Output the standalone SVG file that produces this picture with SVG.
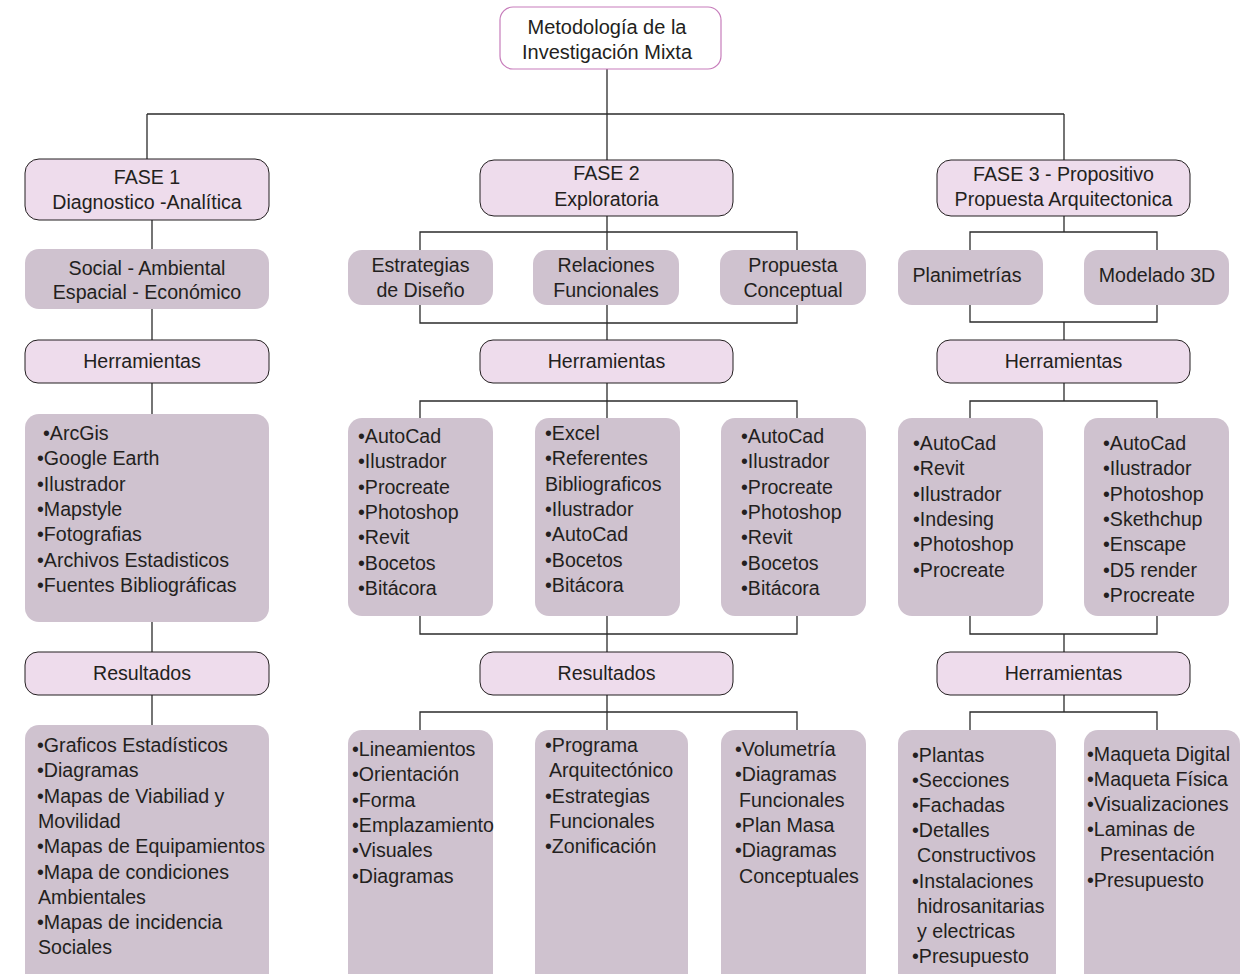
<svg xmlns="http://www.w3.org/2000/svg" width="1249" height="974" viewBox="0 0 1249 974">
<style>
.p{fill:#eedcec;stroke:#231f20;stroke-width:1}
.g{fill:#cfc2cf}
.w{fill:#ffffff;stroke:#c77dbb;stroke-width:1.2}
text{font-family:"Liberation Sans",Arial,sans-serif;font-size:19.6px;fill:#231f20}
.c{text-anchor:middle}
.ln{stroke:#2b2b2b;stroke-width:1.3;fill:none}
</style>
<rect x="0" y="0" width="1249" height="974" fill="#ffffff"/>
<g id="connectors">
<path class="ln" d="M607,69 V730 M147,114 H1064 M147,114 V159 M152,220 V725"/>
<path class="ln" d="M420,250 V232 H797 V250 M420,305 V323 H797 V305 M420,418 V401 H797 V418 M420,616 V634 H797 V616 M420,730 V712 H797 V730"/>
<path class="ln" d="M1064,114 V232 M1064,322 V401 M1064,634 V712 M970,250 V232 H1157 V250 M970,305 V322 H1157 V305 M970,418 V401 H1157 V418 M970,616 V634 H1157 V616 M970,730 V712 H1157 V730"/>
</g>
<g id="title">
<rect class="w" x="500" y="7" width="221" height="62" rx="13"/>
<text class="c" x="607" y="34" style="font-size:20px">Metodología de la</text>
<text class="c" x="607" y="59" style="font-size:20px">Investigación Mixta</text>
</g>
<g id="fase1">
<rect class="p" x="25" y="159" width="244" height="61" rx="14"/>
<text class="c" x="147" y="184">FASE 1</text>
<text class="c" x="147" y="209">Diagnostico -Analítica</text>
</g>
<g id="fase2">
<rect class="p" x="480" y="160" width="253" height="56" rx="14"/>
<text class="c" x="606.5" y="180">FASE 2</text>
<text class="c" x="606.5" y="206">Exploratoria</text>
</g>
<g id="fase3">
<rect class="p" x="937" y="160" width="253" height="56" rx="14"/>
<text class="c" x="1063.5" y="181">FASE 3 - Propositivo</text>
<text class="c" x="1063.5" y="206">Propuesta Arquitectonica</text>
</g>
<g id="social">
<rect class="g" x="25" y="249" width="244" height="60" rx="14"/>
<text class="c" x="147" y="274.5">Social - Ambiental</text>
<text class="c" x="147" y="299">Espacial - Económico</text>
</g>
<g id="estrategias">
<rect class="g" x="348" y="250" width="145" height="55" rx="14"/>
<text class="c" x="420.5" y="272">Estrategias</text>
<text class="c" x="420.5" y="297">de Diseño</text>
</g>
<g id="relaciones">
<rect class="g" x="533" y="250" width="146" height="55" rx="14"/>
<text class="c" x="606" y="272">Relaciones</text>
<text class="c" x="606" y="297">Funcionales</text>
</g>
<g id="propuesta">
<rect class="g" x="720" y="250" width="146" height="55" rx="14"/>
<text class="c" x="793" y="272">Propuesta</text>
<text class="c" x="793" y="297">Conceptual</text>
</g>
<g id="planimetrias">
<rect class="g" x="898" y="250" width="145" height="55" rx="14"/>
<text class="c" x="967" y="282">Planimetrías</text>
</g>
<g id="modelado">
<rect class="g" x="1084" y="250" width="145" height="55" rx="14"/>
<text class="c" x="1157" y="282">Modelado 3D</text>
</g>
<g id="herr1">
<rect class="p" x="25" y="340" width="244" height="43" rx="13"/>
<text class="c" x="142" y="368">Herramientas</text>
</g>
<g id="herr2">
<rect class="p" x="480" y="340" width="253" height="43" rx="13"/>
<text class="c" x="606.5" y="368">Herramientas</text>
</g>
<g id="herr3">
<rect class="p" x="937" y="340" width="253" height="43" rx="13"/>
<text class="c" x="1063.5" y="368">Herramientas</text>
</g>
<g id="tools1">
<rect class="g" x="25" y="414" width="244" height="208" rx="14"/>
<text x="43" y="440">•ArcGis</text>
<text x="37" y="465.3">•Google Earth</text>
<text x="37" y="490.6">•Ilustrador</text>
<text x="37" y="515.9">•Mapstyle</text>
<text x="37" y="541.2">•Fotografias</text>
<text x="37" y="566.5">•Archivos Estadisticos</text>
<text x="37" y="591.8">•Fuentes Bibliográficas</text>
</g>
<g id="tools2a">
<rect class="g" x="348" y="418" width="145" height="198" rx="14"/>
<text x="358" y="443">•AutoCad</text>
<text x="358" y="468.3">•Ilustrador</text>
<text x="358" y="493.6">•Procreate</text>
<text x="358" y="518.9">•Photoshop</text>
<text x="358" y="544.2">•Revit</text>
<text x="358" y="569.5">•Bocetos</text>
<text x="358" y="594.8">•Bitácora</text>
</g>
<g id="tools2b">
<rect class="g" x="535" y="418" width="145" height="198" rx="14"/>
<text x="545" y="440">•Excel</text>
<text x="545" y="465.3">•Referentes</text>
<text x="545" y="490.6">Bibliograficos</text>
<text x="545" y="515.9">•Ilustrador</text>
<text x="545" y="541.2">•AutoCad</text>
<text x="545" y="566.5">•Bocetos</text>
<text x="545" y="591.8">•Bitácora</text>
</g>
<g id="tools2c">
<rect class="g" x="721" y="418" width="145" height="198" rx="14"/>
<text x="741" y="443">•AutoCad</text>
<text x="741" y="468.3">•Ilustrador</text>
<text x="741" y="493.6">•Procreate</text>
<text x="741" y="518.9">•Photoshop</text>
<text x="741" y="544.2">•Revit</text>
<text x="741" y="569.5">•Bocetos</text>
<text x="741" y="594.8">•Bitácora</text>
</g>
<g id="tools3a">
<rect class="g" x="898" y="418" width="145" height="198" rx="14"/>
<text x="913" y="450">•AutoCad</text>
<text x="913" y="475.3">•Revit</text>
<text x="913" y="500.6">•Ilustrador</text>
<text x="913" y="525.9">•Indesing</text>
<text x="913" y="551.2">•Photoshop</text>
<text x="913" y="576.5">•Procreate</text>
</g>
<g id="tools3b">
<rect class="g" x="1084" y="418" width="145" height="198" rx="14"/>
<text x="1103" y="450">•AutoCad</text>
<text x="1103" y="475.3">•Ilustrador</text>
<text x="1103" y="500.6">•Photoshop</text>
<text x="1103" y="525.9">•Skethchup</text>
<text x="1103" y="551.2">•Enscape</text>
<text x="1103" y="576.5">•D5 render</text>
<text x="1103" y="601.8">•Procreate</text>
</g>
<g id="res1">
<rect class="p" x="25" y="652" width="244" height="43" rx="13"/>
<text class="c" x="142" y="680">Resultados</text>
</g>
<g id="res2">
<rect class="p" x="480" y="652" width="253" height="43" rx="13"/>
<text class="c" x="606.5" y="680">Resultados</text>
</g>
<g id="herr4">
<rect class="p" x="937" y="652" width="253" height="43" rx="13"/>
<text class="c" x="1063.5" y="680">Herramientas</text>
</g>
<g id="results1">
<rect class="g" x="25" y="725" width="244" height="270" rx="14"/>
<text x="37" y="752">•Graficos Estadísticos</text>
<text x="37" y="777.3">•Diagramas</text>
<text x="37" y="802.6">•Mapas de Viabiliad y</text>
<text x="38" y="827.9">Movilidad</text>
<text x="37" y="853.2">•Mapas de Equipamientos</text>
<text x="37" y="878.5">•Mapa de condiciones</text>
<text x="38" y="903.8">Ambientales</text>
<text x="37" y="929.1">•Mapas de incidencia</text>
<text x="38" y="954.4">Sociales</text>
</g>
<g id="results2a">
<rect class="g" x="348" y="730" width="145" height="265" rx="14"/>
<text x="352" y="756">•Lineamientos</text>
<text x="352" y="781.3">•Orientación</text>
<text x="352" y="806.6">•Forma</text>
<text x="352" y="831.9">•Emplazamiento</text>
<text x="352" y="857.2">•Visuales</text>
<text x="352" y="882.5">•Diagramas</text>
</g>
<g id="results2b">
<rect class="g" x="535" y="730" width="153" height="265" rx="14"/>
<text x="545" y="752">•Programa</text>
<text x="549" y="777.3">Arquitectónico</text>
<text x="545" y="802.6">•Estrategias</text>
<text x="549" y="827.9">Funcionales</text>
<text x="545" y="853.2">•Zonificación</text>
</g>
<g id="results2c">
<rect class="g" x="721" y="730" width="145" height="265" rx="14"/>
<text x="735" y="756">•Volumetría</text>
<text x="735" y="781.3">•Diagramas</text>
<text x="739" y="806.6">Funcionales</text>
<text x="735" y="831.9">•Plan Masa</text>
<text x="735" y="857.2">•Diagramas</text>
<text x="739" y="882.5">Conceptuales</text>
</g>
<g id="results3a">
<rect class="g" x="898" y="730" width="158" height="265" rx="14"/>
<text x="912" y="762">•Plantas</text>
<text x="912" y="787.1">•Secciones</text>
<text x="912" y="812.2">•Fachadas</text>
<text x="912" y="837.3">•Detalles</text>
<text x="917" y="862.4">Constructivos</text>
<text x="912" y="887.5">•Instalaciones</text>
<text x="917" y="912.6">hidrosanitarias</text>
<text x="917" y="937.7">y electricas</text>
<text x="912" y="962.8">•Presupuesto</text>
</g>
<g id="results3b">
<rect class="g" x="1084" y="730" width="156" height="265" rx="14"/>
<text x="1087" y="761">•Maqueta Digital</text>
<text x="1087" y="786.1">•Maqueta Física</text>
<text x="1087" y="811.2">•Visualizaciones</text>
<text x="1087" y="836.3">•Laminas de</text>
<text x="1100" y="861.4">Presentación</text>
<text x="1087" y="886.5">•Presupuesto</text>
</g>
</svg>
